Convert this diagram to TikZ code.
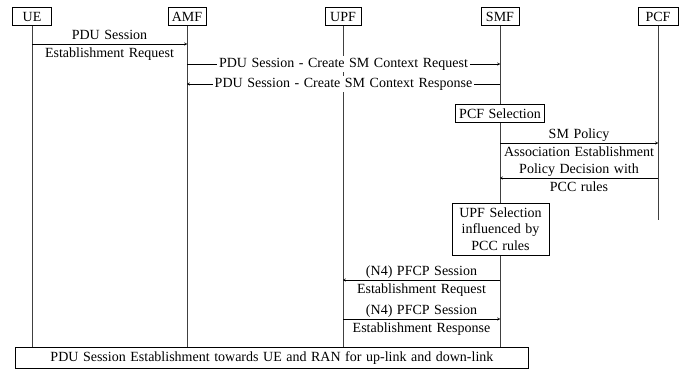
\documentclass[tikz,border=0pt]{standalone}
\usepackage{fontspec}
\setmainfont[WordSpace=1.3]{Liberation Serif}
\usetikzlibrary{arrows.meta}
\begin{document}
\begin{tikzpicture}[x=1pt,y=-1pt,
  font=\fontsize{14}{16.5}\selectfont,
  actor/.style={draw,line width=1pt,inner sep=0pt,minimum height=18pt},
  life/.style={draw=black!75,line width=0.9pt},
  msg/.style={draw,line width=0.6pt,-{To[length=3pt,width=3pt]}},
  procbox/.style={draw,line width=0.9pt,inner sep=2pt,align=center,fill=white},
  lbl/.style={inner sep=1pt,fill=white},
  abv/.style={midway,anchor=base,inner sep=0pt,yshift=4.6pt},
  blw/.style={midway,anchor=base,inner sep=0pt,yshift=-13.6pt}]
\useasboundingbox (0,0) rectangle (685,370);
% header boxes
\node[actor,minimum width=39pt] (ue)  at (32,16.5) {UE};
\node[actor,minimum width=38pt] (amf) at (187,16.5) {AMF};
\node[actor,minimum width=36pt] (upf) at (343,16.5) {UPF};
\node[actor,minimum width=38pt] (smf) at (500,16.5) {SMF};
\node[actor,minimum width=40pt] (pcf) at (658,16.5) {PCF};
% lifeline ends
\coordinate (ueE)  at (32,347);
\coordinate (amfE) at (187,347);
\coordinate (upfE) at (343,347);
\coordinate (smfE) at (500,347);
\coordinate (pcfE) at (658,220);
\draw[life] (ue) -- (ueE);
\draw[life] (amf) -- (amfE);
\draw[life] (upf) -- (upfE);
\draw[life] (smf) -- (smfE);
\draw[life] (pcf) -- (pcfE);
% message anchors
\coordinate (a1) at (32,44);  \coordinate (b1) at (187,44);
\coordinate (a2) at (187,64); \coordinate (b2) at (500,64);
\coordinate (a3) at (500,84); \coordinate (b3) at (187,84);
\coordinate (a5) at (500,143); \coordinate (b5) at (658,143);
\coordinate (a6) at (658,178); \coordinate (b6) at (500,178);
\coordinate (a9) at (500,280); \coordinate (b9) at (343,280);
\coordinate (a10) at (343,319); \coordinate (b10) at (500,319);
% 1
\draw[msg] (a1) -- (b1)
  node[abv] (l1a) {PDU Session}
  node[blw] (l1b) {Establishment Request};
% 2
\draw[msg] (a2) -- (b2) node[midway,lbl,inner sep=2pt] (l2) {PDU Session - Create SM Context Request};
% 3
\draw[msg] (a3) -- (b3) node[midway,lbl,inner sep=2pt] (l3) {PDU Session - Create SM Context Response};
% PCF selection
\node[procbox,minimum width=89pt,minimum height=18pt] (pcfsel) at (500,113.5) {PCF Selection};
% 5
\draw[msg] (a5) -- (b5)
  node[abv] (l5a) {SM Policy}
  node[blw] (l5b) {Association Establishment};
% 6
\draw[msg] (a6) -- (b6)
  node[abv] (l6a) {Policy Decision with}
  node[blw] (l6b) {PCC rules};
% UPF selection
\node[procbox,minimum width=97pt,minimum height=52pt] (upfsel) at (500.5,229) {UPF Selection\\influenced by\\PCC rules};
% 9
\draw[msg] (a9) -- (b9)
  node[abv] (l9a) {(N4) PFCP Session}
  node[blw] (l9b) {Establishment Request};
% 10
\draw[msg] (a10) -- (b10)
  node[abv] (l10a) {(N4) PFCP Session}
  node[blw] (l10b) {Establishment Response};
% bottom box
\node[procbox,minimum width=513pt,minimum height=21pt,anchor=north west] (final) at (15,347) {PDU Session Establishment towards UE and RAN for up-link and down-link};
\end{tikzpicture}
\end{document}
